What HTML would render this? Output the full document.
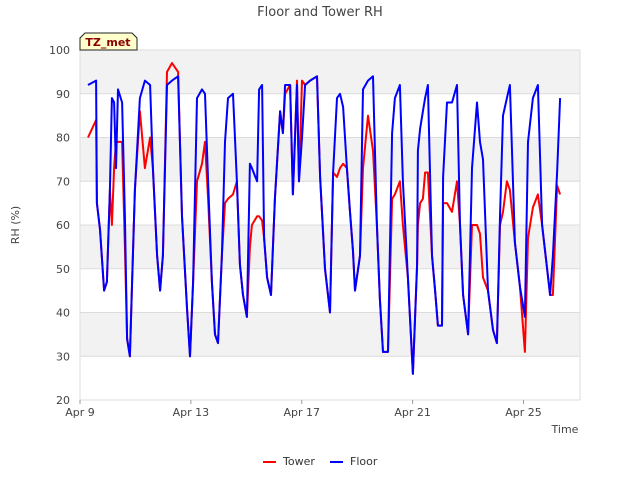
<!DOCTYPE html>
<html><head><meta charset="utf-8"><style>
body{margin:0;background:#fff;font-family:"Liberation Sans","DejaVu Sans",sans-serif;}
svg text{font-family:"DejaVu Sans","Liberation Sans",sans-serif;}
</style></head><body>
<svg id="chart" width="640" height="480" xmlns="http://www.w3.org/2000/svg">
<rect width="640" height="480" fill="#fff"/>
<text x="320" y="16" text-anchor="middle" font-size="13" fill="#444">Floor and Tower RH</text>
<g id="plot"></g>
<g id="axes"></g>
<g>
<path d="M80,50 L80,38 L85,33 L132,33 L137,38 L137,50 Z" fill="#ffffcc" stroke="#222" stroke-width="1"/>
<text x="108" y="46" text-anchor="middle" font-size="11" font-weight="bold" fill="#8b0000">TZ_met</text>
</g>
<text transform="translate(19,225) rotate(-90)" text-anchor="middle" font-size="11" fill="#444">RH (%)</text>
<text x="565" y="433" text-anchor="middle" font-size="11" fill="#444">Time</text>
<g>
<g><line x1="263" y1="462" x2="276" y2="462" stroke="red" stroke-width="2"/><text x="283" y="465" font-size="11" fill="#333">Tower</text></g>
<g><line x1="330" y1="462" x2="343" y2="462" stroke="blue" stroke-width="2"/><text x="350" y="465" font-size="11" fill="#333">Floor</text></g>
</g>
</svg>
<script>
const days = [0.29,0.58,0.61,0.72,0.87,0.97,1.08,1.15,1.23,1.30,1.37,1.52,1.62,1.70,1.80,1.88,1.98,2.16,2.34,2.53,2.63,2.78,2.89,2.99,3.14,3.32,3.54,3.68,3.86,3.97,4.08,4.22,4.40,4.51,4.62,4.76,4.87,4.98,5.12,5.23,5.34,5.52,5.66,5.77,5.88,6.02,6.13,6.20,6.39,6.46,6.57,6.64,6.75,6.89,7.03,7.22,7.32,7.40,7.58,7.68,7.83,7.90,8.01,8.12,8.30,8.55,8.66,8.84,9.02,9.13,9.27,9.38,9.49,9.63,9.74,9.85,9.92,10.10,10.21,10.39,10.57,10.71,10.82,10.93,11.11,11.26,11.36,11.54,11.65,11.83,12.01,12.16,12.19,12.27,12.37,12.45,12.55,12.70,12.81,12.91,13.06,13.10,13.24,13.42,13.60,13.71,13.82,14.00,14.14,14.32,14.43,14.54,14.72,14.90,15.04,15.15,15.26,15.40,15.51,15.69,15.87,16.05,16.16,16.34,16.52,16.67,16.85,16.96,17.06,17.21,17.32];
const floorRH = [92,93,65,59,45,47,68,89,88,73,91,88,62,34,30,47,68,89,93,92,73,53,45,53,92,93,94,62,41,30,47,89,91,90,70,47,35,33,53,79,89,90,70,51,44,39,74,73,70,91,92,57,48,44,66,86,81,92,92,67,92,70,80,92,93,94,71,50,40,72,89,90,87,73,63,54,45,53,91,93,94,60,43,31,31,81,89,92,70,48,26,51,77,82,86,89,92,53,45,37,37,71,88,88,92,60,44,35,73,88,79,75,45,36,33,62,85,89,92,56,46,39,79,89,92,60,50,44,53,72,89];
const towerRH = [80,84,65,59,45,47,68,60,73,79,79,79,55,34,30,47,68,86,73,80,73,53,45,53,95,97,95,62,41,30,47,70,74,79,66,47,35,33,53,65,66,67,70,51,44,39,55,60,62,62,61,57,48,44,66,86,81,90,92,67,93,70,93,92,93,94,71,50,40,72,71,73,74,73,63,54,45,53,73,85,77,60,43,31,31,66,67,70,60,48,26,51,60,65,66,72,72,53,45,37,37,65,65,63,70,60,44,35,60,60,58,48,45,36,33,60,63,70,68,56,46,31,57,64,67,60,50,44,44,69,67];
const yTicks = [20,30,40,50,60,70,80,90,100];
const xTickDays = [0,4,8,12,16];
const xTickLabels = ["Apr 9","Apr 13","Apr 17","Apr 21","Apr 25"];

const X0=80,X1=580,Y0=50,Y1=400;
const xs = d => X0 + d*27.72;
const ys = v => Y1 - (v-20)*(Y1-Y0)/80;
const NS="http://www.w3.org/2000/svg";
const plot=document.getElementById('plot'), axes=document.getElementById('axes');
function mk(tag, attrs, parent){const e=document.createElementNS(NS,tag);for(const k in attrs)e.setAttribute(k,attrs[k]);parent.appendChild(e);return e;}
// bands
for(let v=30; v<100; v+=20){
  const b=mk('rect',{x:X0,y:ys(v+10),width:X1-X0,height:ys(v)-ys(v+10),fill:'#f2f2f2'},plot);
  
  
}
yTicks.forEach(v=>{
  const g=mk('line',{x1:X0,x2:X1,y1:ys(v),y2:ys(v),stroke:'#dcdcdc','stroke-width':1},plot);
  
  
  const t=mk('text',{x:X0-10,y:ys(v)+4,'text-anchor':'end','font-size':11,fill:'#444'},axes);
  t.textContent=v;
  
  
});
const fr=mk('rect',{x:X0,y:Y0,width:X1-X0,height:Y1-Y0,fill:'none',stroke:'#ddd'},plot);


xTickDays.forEach((d,i)=>{
  mk('line',{x1:xs(d),x2:xs(d),y1:Y1,y2:Y1+4,stroke:'#999'},axes);
  const t=mk('text',{x:xs(d),y:Y1+16,'text-anchor':'middle','font-size':11,fill:'#444'},axes);
  t.textContent=xTickLabels[i];
  
  
});
function line(vals,color,name){
  const p=mk('polyline',{points:days.map((d,i)=>xs(d).toFixed(1)+','+ys(vals[i]).toFixed(1)).join(' '),fill:'none',stroke:color,'stroke-width':2,'stroke-linejoin':'round'},plot);
  
  
}
line(towerRH,'red','tower-series');
line(floorRH,'blue','floor-series');
</script>
</body></html>
